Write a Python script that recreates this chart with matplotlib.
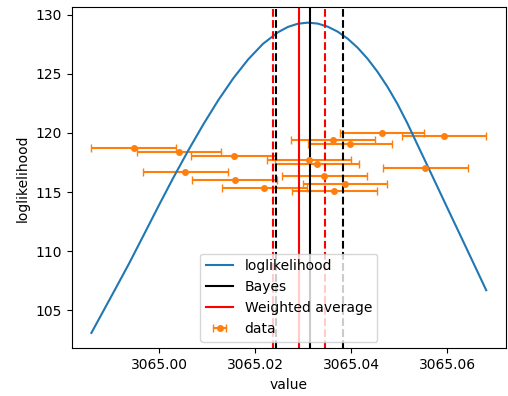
import numpy as np
import matplotlib
matplotlib.use('Agg')
import matplotlib.pyplot as plt

# measurements with their (x) uncertainty
data_x = [3065.03648, 3065.02190, 3065.03876, 3065.01569, 3065.03440, 3065.00545,
          3065.05548, 3065.03289, 3065.03123, 3065.01548, 3065.00408, 3064.99467,
          3065.03973, 3065.03620, 3065.05934, 3065.04642]
data_y = [115.06, 115.34, 115.70, 116.02, 116.38, 116.72, 117.03, 117.40,
          117.69, 118.03, 118.36, 118.70, 119.04, 119.38, 119.72, 120.03]
data_err = [0.0088] * 16

# loglikelihood curve
curve_x = [3064.98585, 3064.99058, 3064.99368, 3064.99679, 3064.99990, 3065.00300,
           3065.00611, 3065.00922, 3065.01232, 3065.01543, 3065.01854, 3065.02164,
           3065.02475, 3065.02682, 3065.02889, 3065.03097, 3065.03304, 3065.03511,
           3065.03718, 3065.03925, 3065.04132, 3065.04339, 3065.04546, 3065.04754,
           3065.04961, 3065.05168, 3065.05375, 3065.05686, 3065.05996, 3065.06307,
           3065.06618, 3065.06814]
curve_y = [103.10, 106.62, 108.95, 111.40, 113.87, 116.27, 118.57, 120.75,
           122.78, 124.62, 126.22, 127.54, 128.51, 128.96, 129.23, 129.32,
           129.24, 128.98, 128.56, 127.97, 127.21, 126.28, 125.18, 123.91,
           122.47, 120.84, 119.06, 116.40, 113.73, 111.07, 108.40, 106.71]

bayes = [3065.0243, 3065.0314, 3065.0382]      # low, mean, high
weighted = [3065.0238, 3065.0292, 3065.0346]   # low, mean, high

fig, ax = plt.subplots(figsize=(5.08, 3.96), dpi=100)
fig.subplots_adjust(left=0.141, right=0.996, top=0.982, bottom=0.12)

ax.errorbar(data_x, data_y, xerr=data_err, fmt='o', ms=4, capsize=3,
            color='C1', label='data')
ax.plot(curve_x, curve_y, color='C0', label='loglikelihood')
ax.axvline(bayes[1], color='k', label='Bayes')
ax.axvline(bayes[0], color='k', ls='--')
ax.axvline(bayes[2], color='k', ls='--')
ax.axvline(weighted[1], color='r', label='Weighted average')
ax.axvline(weighted[0], color='r', ls='--')
ax.axvline(weighted[2], color='r', ls='--')

ax.set_xticks([3065.00, 3065.02, 3065.04, 3065.06])
ax.set_xticklabels(['3065.00', '3065.02', '3065.04', '3065.06'])
ax.set_xlabel('value')
ax.set_ylabel('loglikelihood')
ax.legend(loc='lower center')

fig.savefig('out.png')
